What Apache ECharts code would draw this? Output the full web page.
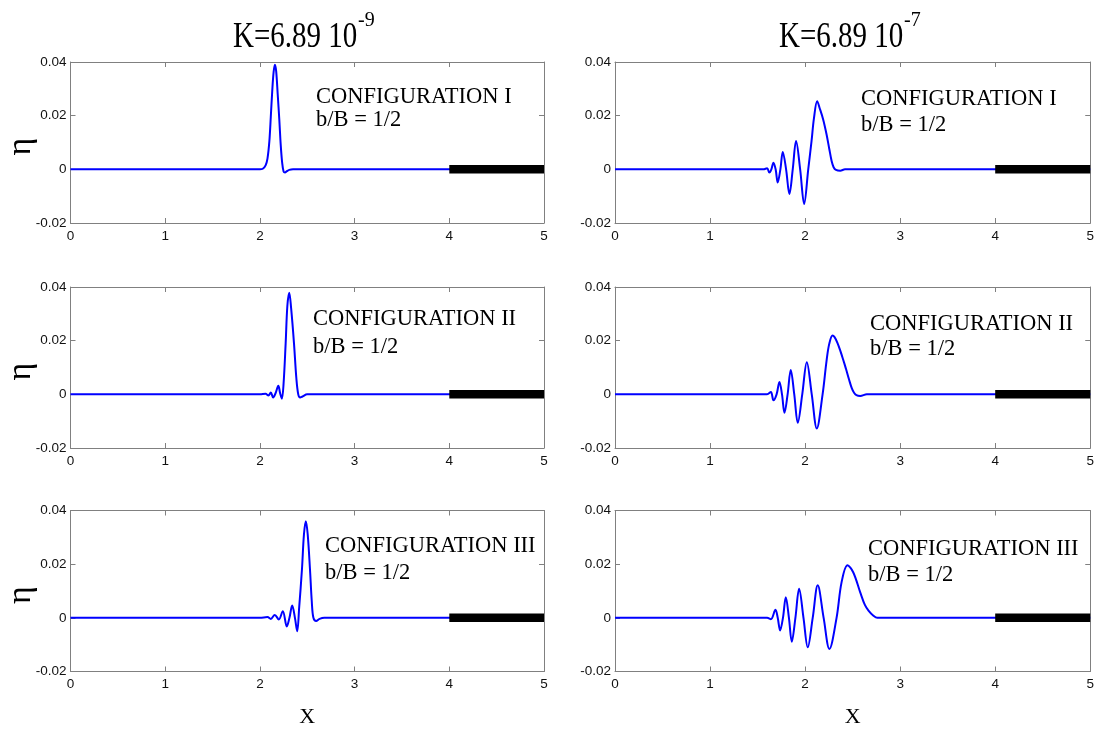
<!DOCTYPE html>
<html>
<head>
<meta charset="utf-8">
<script src="https://cdn.jsdelivr.net/npm/echarts@6/dist/echarts.min.js"></script>
<style>
  html, body { margin: 0; padding: 0; background: #ffffff; }
  #chart { width: 1097px; height: 731px; }
</style>
</head>
<body>
<div id="chart"></div>
<script>
// Axis ticks
const xTickLabels = ['0', '1', '2', '3', '4', '5'];
const etaTickLabels = ['-0.02', '0', '0.02', '0.04'];

// Column headers (permeability K) and panel annotations
const kMantissa = 'K=6.89 10';
const kExponents = ['-9', '-7'];
const configNames = ['CONFIGURATION I', 'CONFIGURATION II', 'CONFIGURATION III'];
const ratioText = 'b/B = 1/2';

// Porous bed extent along X (drawn as the thick black strip)
const bedStart = 4;
const bedEnd = 5;

// Free-surface elevation eta(X), K = 6.89e-9
const x_I_k9 = [0, 1.95, 2.00, 2.03, 2.06, 2.08, 2.10, 2.115, 2.13, 2.145, 2.159, 2.172, 2.188, 2.205, 2.22, 2.235, 2.25, 2.265, 2.285, 2.31, 2.35, 5];
const eta_I_k9 = [0, 0, 0, 0.0002, 0.0015, 0.004, 0.0105, 0.0195, 0.029, 0.0363, 0.039, 0.0365, 0.028, 0.0185, 0.009, 0.0025, -0.0008, -0.0012, -0.0007, -0.0002, 0, 0];

const x_II_k9 = [0, 2.00, 2.06, 2.09, 2.115, 2.14, 2.165, 2.195, 2.213, 2.232, 2.25, 2.272, 2.29, 2.31, 2.33, 2.36, 2.385, 2.405, 2.425, 2.45, 2.5, 5];
const eta_II_k9 = [0, 0, 0.0002, -0.0004, 0.0007, -0.0012, 0.0004, 0.0032, 0.0005, -0.0016, 0.004, 0.019, 0.033, 0.0379, 0.032, 0.019, 0.006, 0, -0.0012, -0.0008, 0, 0];

const x_III_k9 = [0, 2.00, 2.08, 2.115, 2.157, 2.20, 2.242, 2.284, 2.312, 2.341, 2.37, 2.394, 2.415, 2.444, 2.465, 2.485, 2.505, 2.529, 2.548, 2.565, 2.594, 2.63, 2.68, 5];
const eta_III_k9 = [0, 0, 0.0003, -0.0004, 0.0011, -0.0006, 0.0025, -0.0032, 0, 0.0046, 0, -0.005, 0.004, 0.018, 0.031, 0.036, 0.031, 0.018, 0.006, 0, -0.0012, -0.0004, 0, 0];

// Free-surface elevation eta(X), K = 6.89e-7
const x_I_k7 = [0, 1.56, 1.60, 1.624, 1.645, 1.667, 1.69, 1.712, 1.74, 1.765, 1.80, 1.835, 1.87, 1.905, 1.948, 1.99, 2.033, 2.068, 2.093, 2.127, 2.156, 2.19, 2.226, 2.255, 2.279, 2.30, 2.325, 2.37, 2.42, 5];
const eta_I_k7 = [0, 0, 0.0004, -0.0012, 0, 0.0025, 0, -0.0049, 0, 0.0065, 0, -0.0092, 0, 0.0106, 0, -0.0129, 0, 0.0106, 0.019, 0.0254, 0.0225, 0.0186, 0.013, 0.0075, 0.0031, 0.0008, -0.0002, -0.0005, 0, 0];

const x_II_k7 = [0, 1.60, 1.64, 1.667, 1.70, 1.73, 1.757, 1.783, 1.816, 1.849, 1.886, 1.923, 1.97, 2.018, 2.07, 2.123, 2.184, 2.226, 2.254, 2.289, 2.31, 2.34, 2.37, 2.40, 2.43, 2.46, 2.49, 2.515, 2.54, 2.58, 2.65, 5];
const eta_II_k7 = [0, 0, 0.0009, -0.0022, 0, 0.0046, 0, -0.0069, 0, 0.0091, 0, -0.0106, 0, 0.012, 0, -0.0127, 0, 0.0126, 0.0188, 0.0219, 0.0213, 0.0192, 0.0163, 0.013, 0.0095, 0.0058, 0.0024, 0.0006, -0.0003, -0.0006, 0, 0];

const x_III_k7 = [0, 1.60, 1.64, 1.688, 1.712, 1.737, 1.767, 1.797, 1.83, 1.86, 1.898, 1.937, 1.983, 2.028, 2.08, 2.133, 2.195, 2.256, 2.331, 2.384, 2.446, 2.506, 2.579, 2.629, 2.667, 2.716, 2.76, 5];
const eta_III_k7 = [0, 0, -0.0005, 0.003, 0, -0.0047, 0, 0.0077, 0, -0.0089, 0, 0.0108, 0, -0.011, 0, 0.0121, 0, -0.0116, 0, 0.0133, 0.0196, 0.017, 0.0096, 0.0048, 0.0027, 0.0009, 0, 0];

// Panel order: rows = configurations, columns = K values
const panelData = [
  [[x_I_k9, eta_I_k9], [x_I_k7, eta_I_k7]],
  [[x_II_k9, eta_II_k9], [x_II_k7, eta_II_k7]],
  [[x_III_k9, eta_III_k9], [x_III_k7, eta_III_k7]]
];

// ---------- layout ----------
const colLeft = [70.5, 615];
const colWidth = [473.5, 475.5];
const rowTop = [62, 287, 510.5];
const rowHeight = 161;

const axisGray = '#808080';
const labelColor = '#111111';
const sansFont = '"Liberation Sans", Arial, sans-serif';
const serifFont = '"Liberation Serif", "Times New Roman", serif';

// annotation anchor points [x, y of first line, y of second line]
const notePos = [
  [[316, 97, 120], [861, 99, 125]],
  [[313, 319, 347], [870, 324, 349]],
  [[325, 546, 573], [868, 549, 575]]
];

const grids = [], xAxes = [], yAxes = [], series = [], graphics = [];

const frameLine = { show: true, onZero: false, lineStyle: { color: axisGray, width: 1 } };
const innerTick = { show: true, inside: true, length: 5, lineStyle: { color: axisGray } };

for (let r = 0; r < 3; r++) {
  for (let c = 0; c < 2; c++) {
    const g = grids.length;
    grids.push({ left: colLeft[c], top: rowTop[r], width: colWidth[c], height: rowHeight, show: false });

    const baseX = {
      type: 'value', gridIndex: g, min: 0, max: 5, interval: 1,
      axisLine: frameLine, axisTick: innerTick, splitLine: { show: false }
    };
    xAxes.push(Object.assign({}, baseX, {
      position: 'bottom',
      axisLabel: { show: true, margin: 6, color: labelColor, fontSize: 13.5, fontFamily: sansFont,
        formatter: (v, i) => xTickLabels[i] }
    }));
    xAxes.push(Object.assign({}, baseX, { position: 'top', axisLabel: { show: false } }));

    const baseY = {
      type: 'value', gridIndex: g, min: -0.02, max: 0.04, interval: 0.02,
      axisLine: frameLine, axisTick: innerTick, splitLine: { show: false }
    };
    yAxes.push(Object.assign({}, baseY, {
      position: 'left',
      axisLabel: { show: true, margin: 4, color: labelColor, fontSize: 13.5, fontFamily: sansFont,
        formatter: (v, i) => etaTickLabels[i] }
    }));
    yAxes.push(Object.assign({}, baseY, { position: 'right', axisLabel: { show: false } }));

    const [xs, etas] = panelData[r][c];
    series.push({
      type: 'line', xAxisIndex: 2 * g, yAxisIndex: 2 * g,
      data: xs.map((x, i) => [x, etas[i]]),
      showSymbol: false, smooth: 0.35, clip: true,
      lineStyle: { color: '#0000ff', width: 2 }, z: 2, silent: true
    });
    series.push({
      type: 'line', xAxisIndex: 2 * g, yAxisIndex: 2 * g,
      data: [[bedStart, 0], [bedEnd, 0]],
      showSymbol: false, clip: true,
      lineStyle: { color: '#000000', width: 8.5, cap: 'butt' }, z: 3, silent: true
    });

    const [nx, ny1, ny2] = notePos[r][c];
    graphics.push({ type: 'text', left: nx, top: ny1 - 11, z: 10,
      style: { text: configNames[r], font: '22.5px ' + serifFont, fill: '#000' } });
    graphics.push({ type: 'text', left: nx, top: ny2 - 11, z: 10,
      style: { text: ratioText, font: '22.5px ' + serifFont, fill: '#000' } });
  }

  // eta label on the left column
  graphics.push({ type: 'text', x: 21, y: rowTop[r] + rowHeight / 2 + 4, rotation: Math.PI / 2, z: 10,
    style: { text: 'η', font: '34px ' + serifFont, fill: '#000', align: 'center', verticalAlign: 'middle' } });
}

// column headers with superscript exponent
const headerX = [233, 779];
for (let c = 0; c < 2; c++) {
  graphics.push({ type: 'text', x: headerX[c], y: 20, scaleY: 1.2, z: 10,
    style: { text: kMantissa, font: '29px ' + serifFont, fill: '#000', align: 'left', verticalAlign: 'top' } });
  graphics.push({ type: 'text', x: headerX[c] + 125, y: 11, z: 10,
    style: { text: kExponents[c], font: '20px ' + serifFont, fill: '#000', align: 'left', verticalAlign: 'top' } });
  // X axis title under the bottom row
  graphics.push({ type: 'text', x: colLeft[c] + colWidth[c] / 2, y: 717, z: 10,
    style: { text: 'X', font: '22px ' + serifFont, fill: '#000', align: 'center', verticalAlign: 'middle' } });
}

const chart = echarts.init(document.getElementById('chart'), null, { renderer: 'canvas' });
chart.setOption({
  animation: false,
  backgroundColor: '#ffffff',
  grid: grids,
  xAxis: xAxes,
  yAxis: yAxes,
  series: series,
  graphic: graphics
});
</script>
</body>
</html>
